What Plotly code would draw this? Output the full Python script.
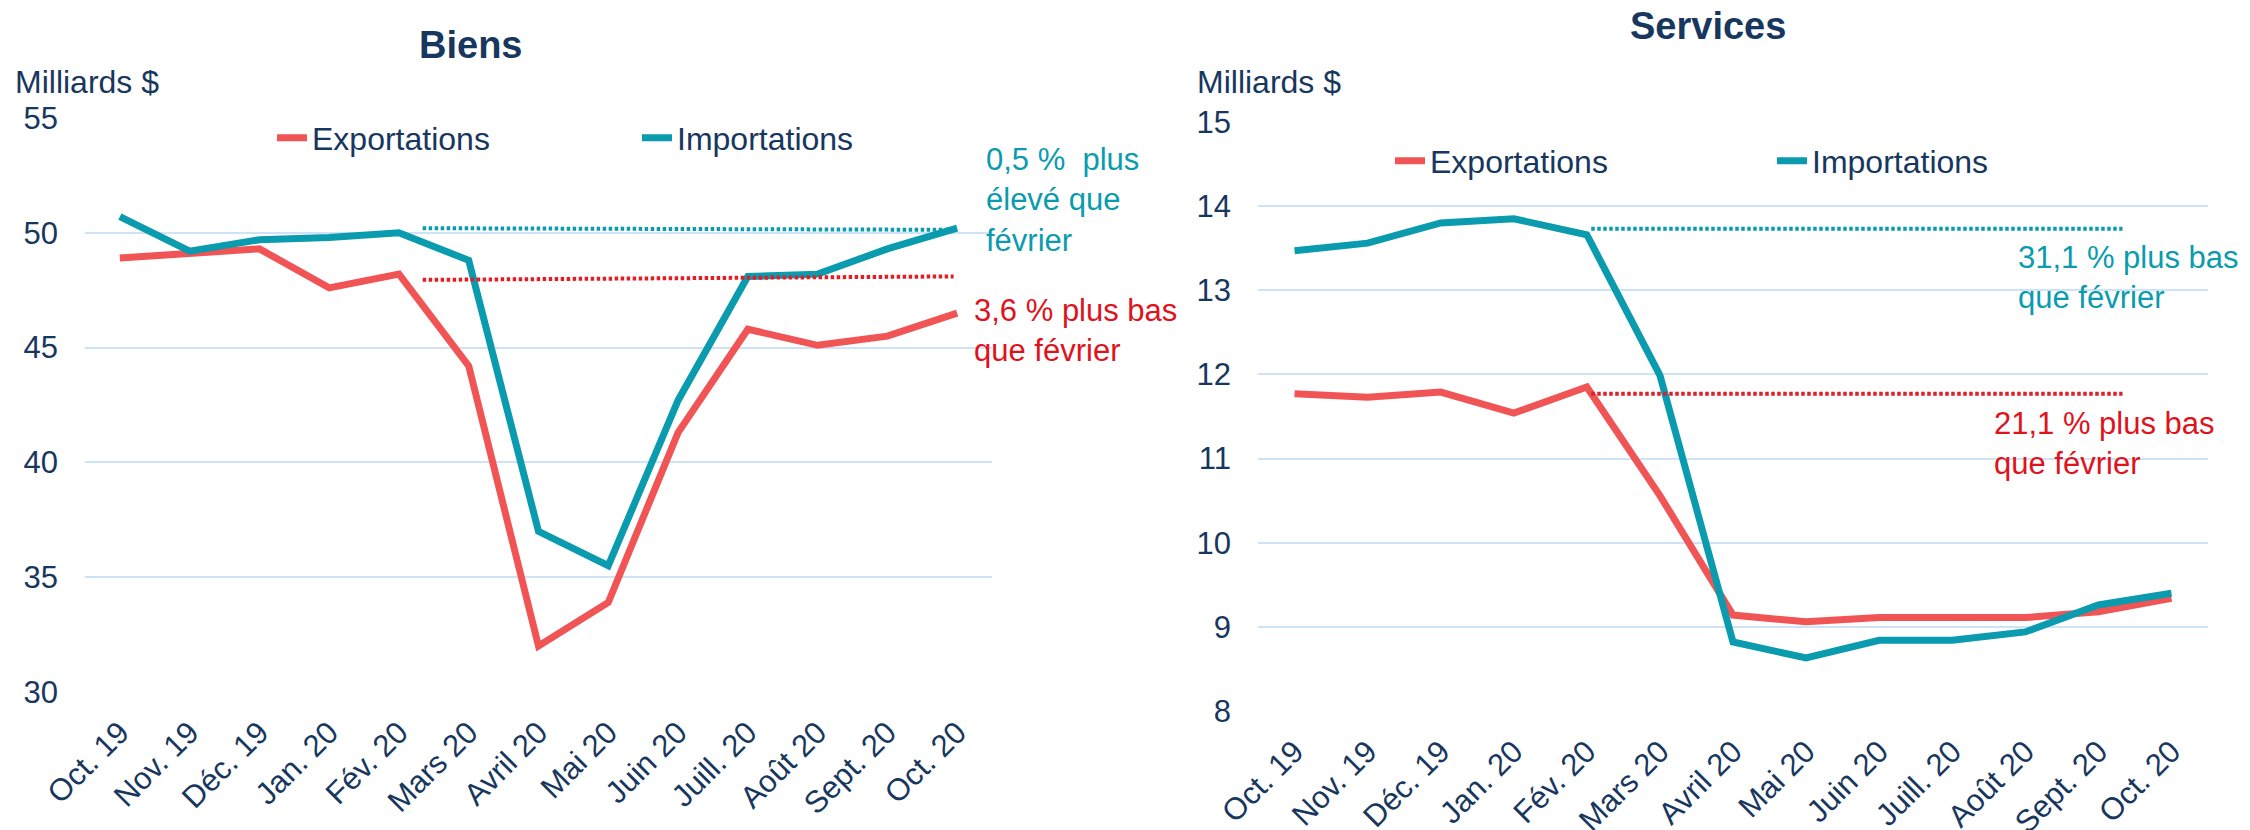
import plotly.graph_objects as go

# ---------------- data ----------------
months = ["Oct. 19", "Nov. 19", "Déc. 19", "Jan. 20", "Fév. 20", "Mars 20", "Avril 20",
          "Mai 20", "Juin 20", "Juill. 20", "Août 20", "Sept. 20", "Oct. 20"]

biens_exp = [48.9, 49.1, 49.3, 47.6, 48.2, 44.2, 32.0, 33.9, 41.3, 45.8, 45.1, 45.5, 46.5]
biens_imp = [50.7, 49.2, 49.7, 49.8, 50.0, 48.8, 37.0, 35.5, 42.7, 48.1, 48.2, 49.3, 50.2]

serv_exp = [11.77, 11.73, 11.79, 11.54, 11.85, 10.56, 9.14, 9.06, 9.11, 9.12, 9.11, 9.18, 9.34]
serv_imp = [13.47, 13.56, 13.80, 13.85, 13.66, 11.99, 8.82, 8.63, 8.84, 8.84, 8.94, 9.26, 9.40]

# dotted reference (February level) lines
biens_ref_x = [4.34, 11.95]
biens_ref_imp = [50.2, 50.13]
biens_ref_exp = [47.95, 48.1]
serv_ref_x = [4.06, 11.33]
serv_ref_imp = [13.73, 13.73]
serv_ref_exp = [11.77, 11.77]

biens_yticks = [30, 35, 40, 45, 50, 55]
serv_yticks = [8, 9, 10, 11, 12, 13, 14, 15]

# ---------------- style ----------------
W, H = 2250, 830
FONT = "Liberation Sans, Arial, sans-serif"
NAVY = "#17375E"
RED = "#F15454"
TEAL = "#0A9BAE"
RED_TXT = "#E0121B"
TEAL_TXT = "#0A9BAE"
GRID = "#CFE3F6"
FS = 32

idx = list(range(len(months)))

fig = go.Figure()

def add_panel(xa, ya, legend, exp, imp, rx, rimp, rexp):
    fig.add_trace(go.Scatter(x=idx, y=exp, mode="lines", name="Exportations",
                             line=dict(color=RED, width=7), xaxis=xa, yaxis=ya,
                             legend=legend))
    fig.add_trace(go.Scatter(x=idx, y=imp, mode="lines", name="Importations",
                             line=dict(color=TEAL, width=7), xaxis=xa, yaxis=ya,
                             legend=legend))
    fig.add_trace(go.Scatter(x=rx, y=rimp, mode="lines", showlegend=False,
                             line=dict(color=TEAL, width=4, dash="3.5px,2.5px"),
                             xaxis=xa, yaxis=ya))
    fig.add_trace(go.Scatter(x=rx, y=rexp, mode="lines", showlegend=False,
                             line=dict(color="#E01E26", width=4, dash="3.5px,2.5px"),
                             xaxis=xa, yaxis=ya))

add_panel("x", "y", "legend", biens_exp, biens_imp, biens_ref_x, biens_ref_imp, biens_ref_exp)
add_panel("x2", "y2", "legend2", serv_exp, serv_imp, serv_ref_x, serv_ref_imp, serv_ref_exp)

xcommon = dict(range=[-0.5, 12.5], tickmode="array", tickvals=idx, ticktext=months,
               tickangle=-45, showgrid=False, zeroline=False, showline=False,
               ticks="", tickfont=dict(family=FONT, size=31, color=NAVY),
               ticklabelstandoff=15, fixedrange=True, automargin=False)
ycommon = dict(showgrid=True, gridcolor=GRID, gridwidth=2, zeroline=False,
               showline=False, ticks="", tickmode="array",
               tickfont=dict(family=FONT, size=31, color=NAVY),
               ticklabelstandoff=26, fixedrange=True, automargin=False)

fig.update_layout(
    width=W, height=H,
    margin=dict(l=0, r=0, t=0, b=0, autoexpand=False),
    paper_bgcolor="white", plot_bgcolor="white",
    font=dict(family=FONT, color=NAVY),
    xaxis=dict(domain=[85 / W, 992 / W], anchor="y", **xcommon),
    yaxis=dict(domain=[1 - 692 / H, 1 - 118 / H], anchor="x", range=[30, 55],
               tickvals=biens_yticks, **ycommon),
    xaxis2=dict(domain=[1258 / W, 2208 / W], anchor="y2", **xcommon),
    yaxis2=dict(domain=[1 - 711 / H, 1 - 122 / H], anchor="x2", range=[8, 15],
                tickvals=serv_yticks, **ycommon),
    legend=dict(orientation="h", x=272 / W, xanchor="left", y=1 - 138 / H,
                yanchor="middle", font=dict(family=FONT, size=FS, color=NAVY),
                entrywidth=320, entrywidthmode="pixels", bgcolor="rgba(0,0,0,0)",
                itemclick=False, itemdoubleclick=False),
    legend2=dict(orientation="h", x=1390 / W, xanchor="left", y=1 - 161 / H,
                 yanchor="middle", font=dict(family=FONT, size=FS, color=NAVY),
                 entrywidth=337, entrywidthmode="pixels", bgcolor="rgba(0,0,0,0)",
                 itemclick=False, itemdoubleclick=False),
    showlegend=True,
)

def ann(text, x, y, size, color, xanchor="left", bold=False):
    fig.add_annotation(text=f"<b>{text}</b>" if bold else text, x=x / W, y=1 - y / H,
                       xref="paper", yref="paper", xanchor=xanchor, yanchor="middle",
                       showarrow=False, align="left",
                       font=dict(family=FONT, size=size, color=color))

ann("Biens", 470, 45, 38, NAVY, xanchor="center", bold=True)
ann("Services", 1708, 26, 38, NAVY, xanchor="center", bold=True)
ann("Milliards $", 13, 82, FS, NAVY)
ann("Milliards $", 1195, 82, FS, NAVY)
ann("0,5 %  plus<br>élevé que<br>février", 984, 200, 31, TEAL_TXT)
ann("3,6 % plus bas<br>que février", 972, 330, 31, RED_TXT)
ann("31,1 % plus bas<br>que février", 2016, 277, 31, TEAL_TXT)
ann("21,1 % plus bas<br>que février", 1992, 443, 31, RED_TXT)

fig.write_html("out.html", config={"displayModeBar": False},
               post_script="document.body.style.margin='0';document.body.style.overflow='hidden';")
